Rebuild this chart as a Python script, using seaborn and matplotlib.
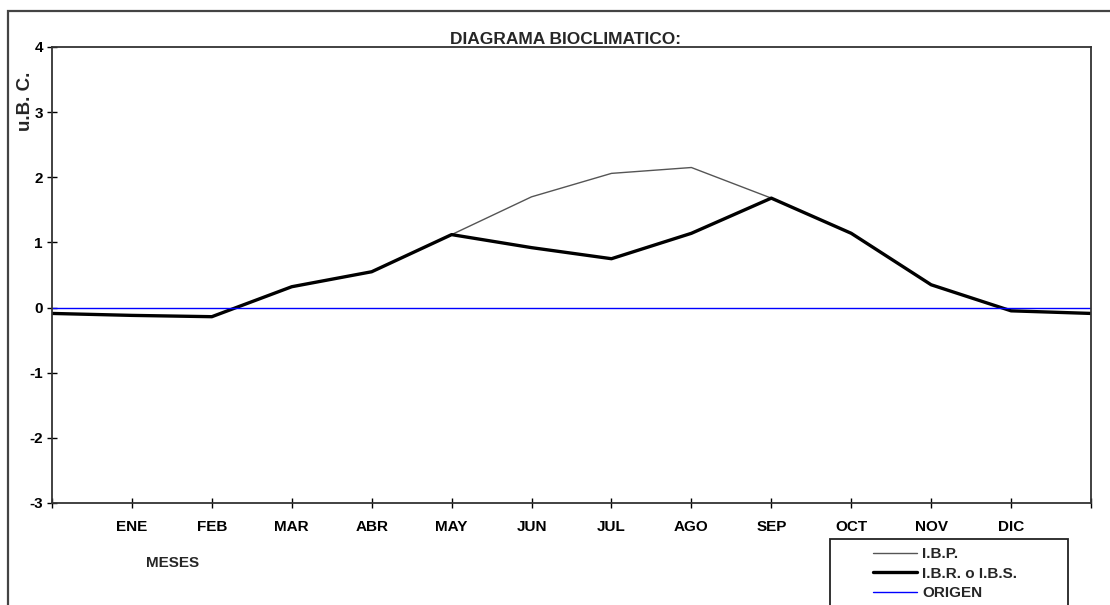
import numpy as np
import pandas as pd
import matplotlib
matplotlib.use("Agg")
import matplotlib.pyplot as plt
from matplotlib.patches import Rectangle
import seaborn as sns

# month positions: 0 and 13 are the unlabeled edge points
pos = list(range(14))
month_labels = ['', 'ENE', 'FEB', 'MAR', 'ABR', 'MAY', 'JUN', 'JUL', 'AGO',
                'SEP', 'OCT', 'NOV', 'DIC', '']
ibp = [-0.09, -0.12, -0.14, 0.32, 0.55, 1.12, 1.70, 2.06, 2.15, 1.68, 1.14, 0.35, -0.05, -0.09]
ibr = [-0.09, -0.12, -0.14, 0.32, 0.55, 1.12, 0.92, 0.75, 1.14, 1.68, 1.14, 0.35, -0.05, -0.09]
origen = [0.0] * 14
yticks = [-3, -2, -1, 0, 1, 2, 3, 4]

sns.set_style("white")
plt.rcParams['font.family'] = ['Liberation Sans', 'DejaVu Sans']
plt.rcParams['font.weight'] = 'bold'

W, H = 1110, 605
fig = plt.figure(figsize=(W / 100, H / 100), dpi=100)
ax = fig.add_axes([52 / W, 1 - 503 / H, (1091 - 52) / W, (503 - 47) / H])

df = pd.DataFrame({'pos': pos, 'ibp': ibp, 'ibr': ibr, 'origen': origen})
sns.lineplot(data=df, x='pos', y='ibp', ax=ax, color='#555555', linewidth=1.0, label='I.B.P.')
sns.lineplot(data=df, x='pos', y='ibr', ax=ax, color='black', linewidth=2.4, label='I.B.R. o I.B.S.')
sns.lineplot(data=df, x='pos', y='origen', ax=ax, color='#0000ff', linewidth=1.0, label='ORIGEN')

ax.set_xlim(0, 13)
ax.set_ylim(-3, 4)
ax.set_xticks(pos)
ax.set_xticklabels(month_labels)
ax.set_yticks(yticks)
ax.set_yticklabels([str(v) for v in yticks])
ax.set_xlabel('')
ax.set_ylabel('')
ax.tick_params(bottom=True, left=True, direction='inout', length=7, width=1,
               color='black', labelsize=11, labelcolor='black')
ax.tick_params(axis='x', pad=9)
ax.tick_params(axis='y', pad=3)
for lab in ax.get_xticklabels() + ax.get_yticklabels():
    lab.set_fontweight('bold')
for sp in ax.spines.values():
    sp.set_linewidth(1.3)
    sp.set_color('#333333')

# legend: box drawn separately, runs off the bottom like the original
handles, labels = ax.get_legend_handles_labels()
ax.get_legend().remove()
fig.legend(handles, labels, loc='upper left', bbox_to_anchor=(873 / W, 1 - 547 / H),
           frameon=False, handlelength=2.9, handletextpad=0.3,
           labelspacing=0.36, borderpad=0, borderaxespad=0,
           prop={'weight': 'bold', 'size': 11})
fig.patches.append(Rectangle((830 / W, -0.05), (1068 - 830) / W, (1 - 539 / H) + 0.05,
                             transform=fig.transFigure, fill=False,
                             edgecolor='#222222', linewidth=1.3))

# outer chart frame
fig.patches.append(Rectangle((8 / W, -0.05), 1.1, (1 - 11 / H) + 0.05,
                             transform=fig.transFigure, fill=False,
                             edgecolor='#444444', linewidth=1.6))

fig.text(566 / W, 1 - 40 / H, 'DIAGRAMA BIOCLIMATICO:', ha='center', va='center',
         fontsize=12.5, fontweight='bold')
fig.text(25 / W, 1 - 101 / H, 'u.B. C.', rotation=90, ha='center', va='center',
         fontsize=13.5, fontweight='bold')
fig.text(173 / W, 1 - 563 / H, 'MESES', ha='center', va='center',
         fontsize=11, fontweight='bold')

fig.savefig('out.png', dpi=100)
